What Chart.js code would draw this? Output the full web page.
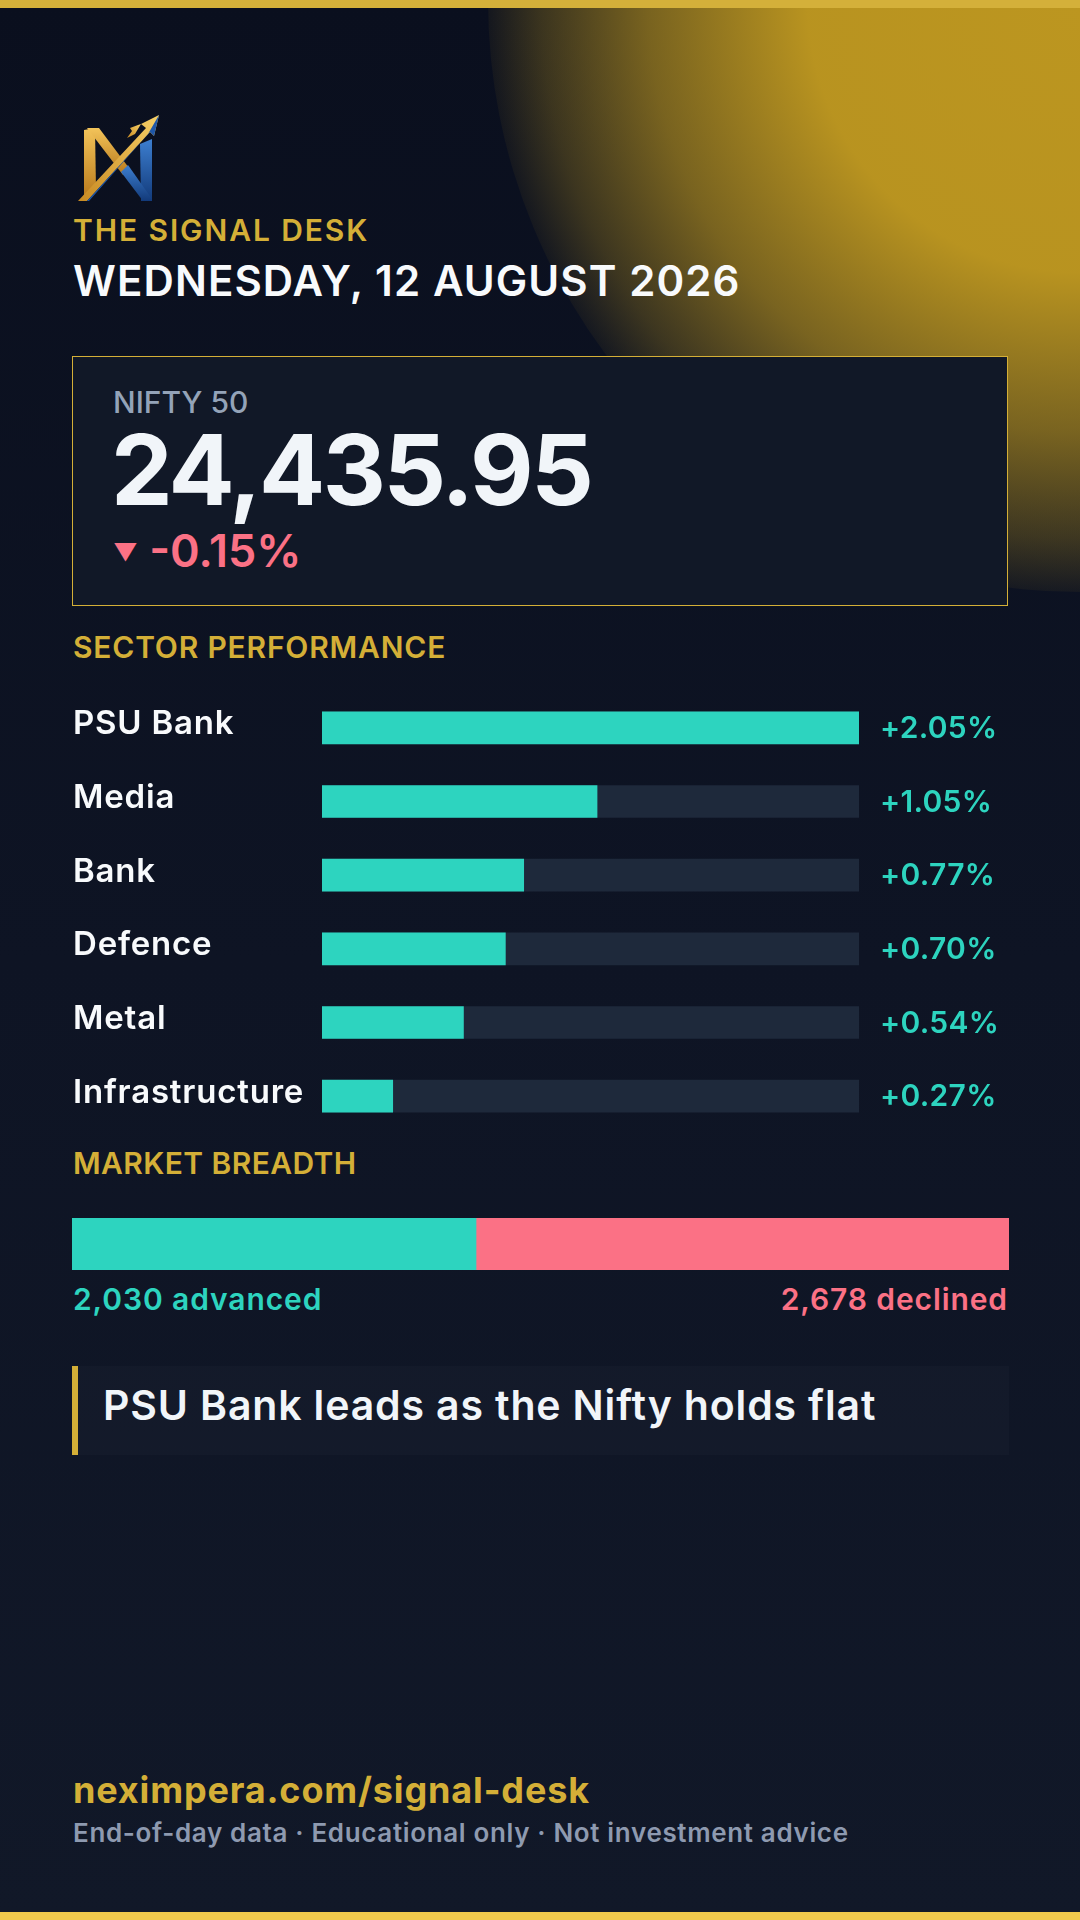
<!DOCTYPE html>
<html>
<head>
<meta charset="utf-8">
<script src="https://cdn.jsdelivr.net/npm/chart.js@4.4.1/dist/chart.umd.min.js"></script>
<style>
  html, body { margin: 0; padding: 0; }
  body {
    width: 1080px; height: 1920px; overflow: hidden; position: relative;
    background: linear-gradient(180deg, #0a0f1e 0%, #0e1424 50%, #111828 100%);
    font-family: Inter, "Noto Sans", sans-serif;
  }
  .abs { position: absolute; line-height: 1; white-space: nowrap; }
  .glow {
    position: absolute; left: 488px; top: -592px; width: 1184px; height: 1184px; border-radius: 50%;
    background: radial-gradient(circle closest-side,
      rgba(188,150,32,1) 0%, rgba(188,150,32,0.98) 46%, rgba(188,150,32,0.62) 73%,
      rgba(188,150,32,0.28) 91%, rgba(188,150,32,0.06) 100%);
  }
  .topbar { position: absolute; left: 0; top: 0; width: 1080px; height: 8px; background: #d4b03a; }
  .botbar { position: absolute; left: 0; bottom: 0; width: 1080px; height: 8px; background: #f0c94c; }
  .gold { color: #d4af37; }
  .box {
    position: absolute; left: 72px; top: 356px; width: 934px; height: 248px;
    background: #111827; border: 1px solid #d4af37;
  }
  .headline {
    position: absolute; left: 72px; top: 1366px; width: 937px; height: 89px;
    background: rgba(255,255,255,0.018); border-left: 6px solid #d4af37; box-sizing: border-box;
  }
  #sectorWrap { position: absolute; left: 72px; top: 691px; width: 936px; height: 442px; }
  #breadthWrap { position: absolute; left: 72px; top: 1218px; width: 937px; height: 52px; }
</style>
</head>
<body>
<div class="glow"></div>
<div class="topbar"></div>

<svg class="abs" style="left:75px;top:110px" width="90" height="95" viewBox="0 0 90 95">
  <defs>
    <linearGradient id="g1" x1="0" y1="0" x2="0" y2="1">
      <stop offset="0" stop-color="#f3c45a"/><stop offset="1" stop-color="#b97a1c"/>
    </linearGradient>
    <linearGradient id="g2" x1="0" y1="0" x2="0" y2="1">
      <stop offset="0" stop-color="#3d7fd0"/><stop offset="1" stop-color="#123a7a"/>
    </linearGradient>
    <linearGradient id="g3" x1="0" y1="1" x2="1" y2="0">
      <stop offset="0" stop-color="#c88a22"/><stop offset="1" stop-color="#f6cf66"/>
    </linearGradient>
  </defs>
  <polygon points="9,20 20,18 21,80 9,88" fill="url(#g1)"/>
  <polygon points="12,18 24,18 54,58 48,65" fill="url(#g1)"/>
  <polygon points="65,34 77,29 77,91 66,91" fill="url(#g2)"/>
  <polygon points="46,62 53,55 77,89 68,91" fill="url(#g2)"/>
  <polygon points="3,91 71,18 66,14 84,5 79,26 75,22 12,91" fill="url(#g3)"/>
  <polygon points="12,91 75,22 79,26 84,5 73,24 14,91" fill="#1f57a8"/>
  <polygon points="52,28 57,21 55,18 63,15 66,14 60,24" fill="url(#g3)"/>
</svg>

<div class="abs gold" style="left:73px;top:215px;font-size:30px;font-weight:600;letter-spacing:1.9px">THE SIGNAL DESK</div>
<div class="abs" style="left:73px;top:260px;font-size:42px;font-weight:600;color:#f8fafc;letter-spacing:1.1px">WEDNESDAY, 12 AUGUST 2026</div>

<div class="box"></div>
<div class="abs" style="left:113px;top:387px;font-size:30px;font-weight:500;color:#94a3b8">NIFTY 50</div>
<div class="abs" id="niftyValue" style="left:111px;top:421px;font-size:98px;font-weight:700;color:#f1f5f9;letter-spacing:-2.6px"></div>
<div class="abs" style="left:113px;top:528px;font-size:45px;font-weight:600;color:#fb7185"><span id="niftyArrow" style="font-size:24px;vertical-align:6px"></span> <span id="niftyChange"></span></div>

<div class="abs gold" style="left:73px;top:632px;font-size:30px;font-weight:600;letter-spacing:0.8px">SECTOR PERFORMANCE</div>
<div id="sectorWrap"><canvas id="sectorChart"></canvas></div>

<div class="abs gold" style="left:73px;top:1148px;font-size:30px;font-weight:600;letter-spacing:0.4px">MARKET BREADTH</div>
<div id="breadthWrap"><canvas id="breadthChart"></canvas></div>
<div class="abs" id="advLabel" style="left:73px;top:1284px;font-size:30px;font-weight:600;color:#2dd4bf;letter-spacing:0.9px"></div>
<div class="abs" id="decLabel" style="right:72px;top:1284px;font-size:30px;font-weight:600;color:#fb7185;letter-spacing:0.9px"></div>

<div class="headline"></div>
<div class="abs" style="left:103px;top:1385px;font-size:41px;font-weight:600;color:#f1f5f9;letter-spacing:0.85px">PSU Bank leads as the Nifty holds flat</div>

<div class="abs gold" style="left:73px;top:1772px;font-size:36px;font-weight:700;letter-spacing:0.85px">neximpera.com/signal-desk</div>
<div class="abs" style="left:73px;top:1820px;font-size:26px;font-weight:600;color:#8e9ab0;letter-spacing:0.65px">End-of-day data · Educational only · Not investment advice</div>

<div class="botbar"></div>

<script>
// index
const niftyLevel = 24435.95;
const niftyChangePct = -0.15;

// sector performance, % change
const sectors = ["PSU Bank", "Media", "Bank", "Defence", "Metal", "Infrastructure"];
const sectorChange = [2.05, 1.05, 0.77, 0.70, 0.54, 0.27];

// market breadth
const breadthLabels = ["advanced", "declined"];
const breadthCounts = [2030, 2678];

const TEAL = '#2dd4bf';
const CORAL = '#fb7185';
const TRACK = '#1e293b';

document.getElementById('niftyValue').textContent =
    niftyLevel.toLocaleString('en-IN', { minimumFractionDigits: 2 });
document.getElementById('niftyArrow').textContent = niftyChangePct < 0 ? '\u25BC' : '\u25B2';
document.getElementById('niftyChange').textContent = niftyChangePct.toFixed(2) + '%';
document.getElementById('advLabel').textContent =
    breadthCounts[0].toLocaleString('en-US') + ' ' + breadthLabels[0];
document.getElementById('decLabel').textContent =
    breadthCounts[1].toLocaleString('en-US') + ' ' + breadthLabels[1];

const maxChange = Math.max(...sectorChange);

// names on the left and values on the right of each bar
const sectorText = {
    id: 'sectorText',
    afterDatasetsDraw(chart) {
        const ctx = chart.ctx;
        const meta = chart.getDatasetMeta(1);
        ctx.save();
        ctx.textBaseline = 'alphabetic';
        ctx.textAlign = 'left';
        meta.data.forEach((bar, i) => {
            ctx.fillStyle = '#f8fafc';
            ctx.font = '600 33px Inter';
            ctx.letterSpacing = '0.8px';
            ctx.fillText(sectors[i], 1, bar.y + 6.5);
            ctx.fillStyle = TEAL;
            ctx.font = '600 30px Inter';
            ctx.letterSpacing = '0.3px';
            const v = sectorChange[i];
            ctx.fillText((v >= 0 ? '+' : '') + v.toFixed(2) + '%', chart.chartArea.right + 21, bar.y + 10);
        });
        ctx.restore();
    }
};

new Chart(document.getElementById('sectorChart'), {
    type: 'bar',
    data: {
        labels: sectors,
        datasets: [
            {
                label: 'track',
                data: sectors.map(() => maxChange),
                backgroundColor: TRACK,
                grouped: false,
                order: 2
            },
            {
                label: 'change',
                data: sectorChange,
                backgroundColor: TEAL,
                grouped: false,
                order: 1
            }
        ]
    },
    options: {
        indexAxis: 'y',
        responsive: true,
        maintainAspectRatio: false,
        animation: false,
        layout: { padding: { left: 250, right: 149, top: 0, bottom: 0 } },
        datasets: { bar: { barThickness: 32, borderWidth: 0, borderRadius: 0 } },
        scales: {
            x: { display: false, min: 0, max: maxChange },
            y: { display: false }
        },
        plugins: { legend: { display: false }, tooltip: { enabled: false } }
    },
    plugins: [sectorText]
});

new Chart(document.getElementById('breadthChart'), {
    type: 'bar',
    data: {
        labels: ['breadth'],
        datasets: [
            { label: breadthLabels[0], data: [breadthCounts[0]], backgroundColor: TEAL },
            { label: breadthLabels[1], data: [breadthCounts[1]], backgroundColor: CORAL }
        ]
    },
    options: {
        indexAxis: 'y',
        responsive: true,
        maintainAspectRatio: false,
        animation: false,
        layout: { padding: 0 },
        datasets: { bar: { barPercentage: 1, categoryPercentage: 1, borderWidth: 0 } },
        scales: {
            x: { display: false, stacked: true, min: 0, max: breadthCounts[0] + breadthCounts[1] },
            y: { display: false, stacked: true }
        },
        plugins: { legend: { display: false }, tooltip: { enabled: false } }
    }
});
</script>
</body>
</html>
